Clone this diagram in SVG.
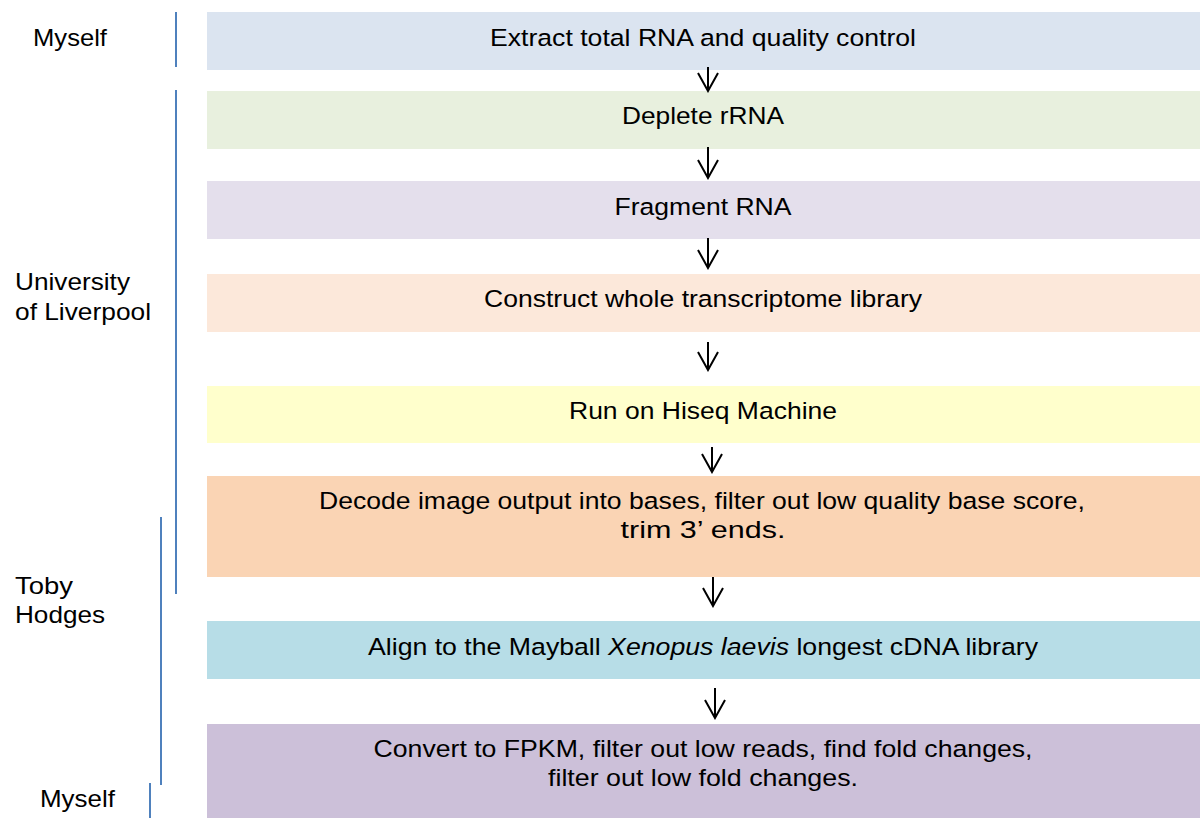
<svg xmlns="http://www.w3.org/2000/svg" width="1203" height="818" viewBox="0 0 1203 818">
<style>
text{font-family:"Liberation Sans",Arial,sans-serif;font-size:24.5px;fill:#000}
.c{text-anchor:middle}
.bar{stroke:#4F81BD;stroke-width:2;fill:none}
.arr{stroke:#000;stroke-width:2;fill:none}
</style>
<defs>
<marker id="v" markerUnits="userSpaceOnUse" markerWidth="22" markerHeight="22" refX="20" refY="11" orient="auto" viewBox="0 0 22 22">
<path d="M2,1 L20,11 L2,21" fill="none" stroke="#000" stroke-width="2"/>
</marker>
</defs>
<rect width="1203" height="818" fill="#fff"/>
<g id="labels">
<g id="lab-myself-top"><line class="bar" x1="176" y1="12" x2="176" y2="67"/><text x="33" y="46" textLength="74" lengthAdjust="spacingAndGlyphs">Myself</text></g>
<g id="lab-liverpool"><line class="bar" x1="176" y1="90" x2="176" y2="594"/><text x="15" y="290" textLength="115" lengthAdjust="spacingAndGlyphs">University</text><text x="15" y="320" textLength="136" lengthAdjust="spacingAndGlyphs">of Liverpool</text></g>
<g id="lab-toby"><line class="bar" x1="161" y1="517" x2="161" y2="785"/><text x="15" y="594" textLength="58" lengthAdjust="spacingAndGlyphs">Toby</text><text x="15" y="623" textLength="90" lengthAdjust="spacingAndGlyphs">Hodges</text></g>
<g id="lab-myself-bottom"><line class="bar" x1="150" y1="783" x2="150" y2="818"/><text x="40" y="807" textLength="75" lengthAdjust="spacingAndGlyphs">Myself</text></g>
</g>
<g id="n1"><rect x="207" y="12" width="993" height="58" fill="#DBE4F0"/><text class="c" x="703" y="46" textLength="426" lengthAdjust="spacingAndGlyphs">Extract total RNA and quality control</text></g>
<g id="n2"><rect x="207" y="91" width="993" height="58" fill="#E8F0DE"/><text class="c" x="703" y="124" textLength="162" lengthAdjust="spacingAndGlyphs">Deplete rRNA</text></g>
<g id="n3"><rect x="207" y="181" width="993" height="58" fill="#E4DFEC"/><text class="c" x="703" y="215" textLength="177" lengthAdjust="spacingAndGlyphs">Fragment RNA</text></g>
<g id="n4"><rect x="207" y="274" width="993" height="58" fill="#FCE8DA"/><text class="c" x="703" y="307" textLength="438" lengthAdjust="spacingAndGlyphs">Construct whole transcriptome library</text></g>
<g id="n5"><rect x="207" y="386" width="993" height="57" fill="#FFFFCC"/><text class="c" x="703" y="419" textLength="268" lengthAdjust="spacingAndGlyphs">Run on Hiseq Machine</text></g>
<g id="n6"><rect x="207" y="476" width="993" height="101" fill="#FAD4B4"/><text class="c" x="702" y="509" textLength="766" lengthAdjust="spacingAndGlyphs">Decode image output into bases, filter out low quality base score,</text><text class="c" x="703" y="538" textLength="165" lengthAdjust="spacingAndGlyphs">trim 3’ ends.</text></g>
<g id="n7"><rect x="207" y="621" width="993" height="58" fill="#B7DDE7"/><text class="c" x="703" y="655" textLength="670" lengthAdjust="spacingAndGlyphs">Align to the Mayball <tspan font-style="italic">Xenopus laevis</tspan> longest cDNA library</text></g>
<g id="n8"><rect x="207" y="724" width="993" height="94" fill="#CCC0D9"/><text class="c" x="703" y="757" textLength="659" lengthAdjust="spacingAndGlyphs">Convert to FPKM, filter out low reads, find fold changes,</text><text class="c" x="703" y="786" textLength="310" lengthAdjust="spacingAndGlyphs">filter out low fold changes.</text></g>
<g id="connectors">
<path class="arr" d="M708,67 V91" marker-end="url(#v)"/>
<path class="arr" d="M708,147 V178" marker-end="url(#v)"/>
<path class="arr" d="M708,238 V268" marker-end="url(#v)"/>
<path class="arr" d="M708,342 V370" marker-end="url(#v)"/>
<path class="arr" d="M712,447 V472" marker-end="url(#v)"/>
<path class="arr" d="M713,577 V606" marker-end="url(#v)"/>
<path class="arr" d="M715,688 V718" marker-end="url(#v)"/>
</g>
</svg>
